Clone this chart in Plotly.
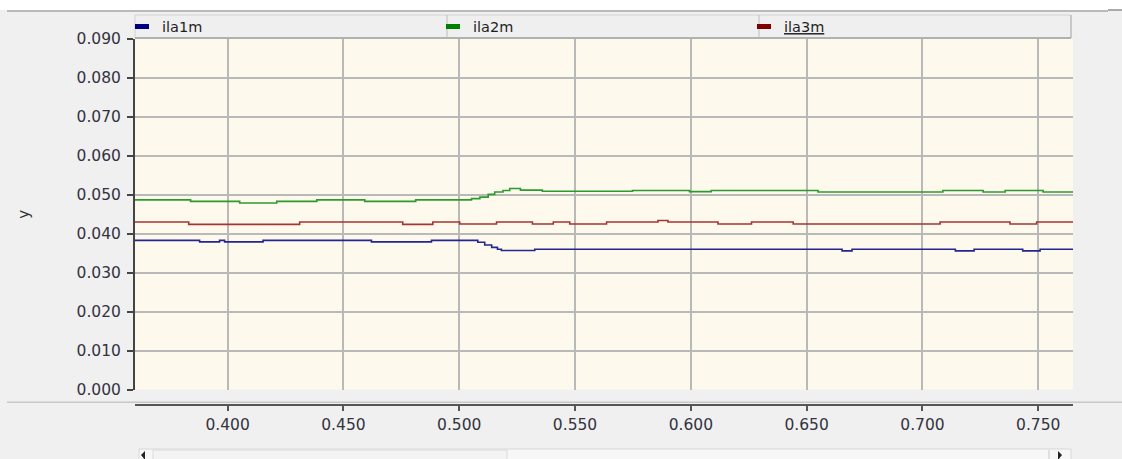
import plotly.graph_objects as go

# ---------------- data ----------------
ila1m_x = [0.3600, 0.3879, 0.3965, 0.3987, 0.4153, 0.4621, 0.4880, 0.5080, 0.5110, 0.5140,
           0.5165, 0.5182, 0.5326, 0.6653, 0.6696, 0.7142, 0.7223, 0.7433, 0.7508, 0.7650]
ila1m_y = [0.0383, 0.0379, 0.0383, 0.0379, 0.0383, 0.0379, 0.0383, 0.0378, 0.0371, 0.0365,
           0.0360, 0.0357, 0.0360, 0.0356, 0.0360, 0.0356, 0.0360, 0.0356, 0.0360, 0.0360]

ila2m_x = [0.3600, 0.3840, 0.4052, 0.4212, 0.4385, 0.4592, 0.4812, 0.5053, 0.5089, 0.5125,
           0.5153, 0.5189, 0.5218, 0.5264, 0.5359, 0.5748, 0.5994, 0.6088, 0.6549, 0.7088,
           0.7262, 0.7357, 0.7521, 0.7650]
ila2m_y = [0.0487, 0.0483, 0.0479, 0.0483, 0.0487, 0.0483, 0.0487, 0.0490, 0.0494, 0.0501,
           0.0507, 0.0511, 0.0516, 0.0512, 0.0509, 0.0511, 0.0508, 0.0511, 0.0507, 0.0511,
           0.0507, 0.0511, 0.0507, 0.0507]

ila3m_x = [0.3600, 0.3832, 0.4311, 0.4756, 0.4886, 0.5002, 0.5161, 0.5316, 0.5406, 0.5477,
           0.5636, 0.5858, 0.5901, 0.6117, 0.6262, 0.6442, 0.7076, 0.7378, 0.7493, 0.7650]
ila3m_y = [0.0430, 0.0424, 0.0430, 0.0424, 0.0430, 0.0425, 0.0430, 0.0425, 0.0430, 0.0425,
           0.0430, 0.0434, 0.0430, 0.0425, 0.0430, 0.0425, 0.0430, 0.0425, 0.0430, 0.0430]

series_names = ["ila1m", "ila2m", "<u>ila3m</u>"]
line_colors = ["#25258f", "#2c9a2c", "#a53535"]
legend_colors = ["#000080", "#008000", "#800000"]

x_ticks = [0.40, 0.45, 0.50, 0.55, 0.60, 0.65, 0.70, 0.75]
y_ticks = [0.000, 0.010, 0.020, 0.030, 0.040, 0.050, 0.060, 0.070, 0.080, 0.090]

# ---------------- geometry helpers (layout only) ----------------
W, H = 1122, 459
L, R, T, B = 135, 49, 39, 54
PW, PH = W - L - R, H - T - B


def px(xp):
    return (xp - L) / PW


def py(yp):
    return (H - B - yp) / PH


fig = go.Figure()

xs = [ila1m_x, ila2m_x, ila3m_x]
ys = [ila1m_y, ila2m_y, ila3m_y]
for i in range(3):
    fig.add_trace(go.Scatter(
        x=xs[i], y=ys[i], mode="lines", line=dict(color=line_colors[i], width=1.6, shape="hv"),
        showlegend=False, legendgroup=str(i), name=series_names[i]))
for i in range(3):
    fig.add_trace(go.Scatter(
        x=[None], y=[None], mode="markers", name=series_names[i], legendgroup=str(i),
        marker=dict(symbol="line-ew", size=10, color=legend_colors[i],
                    line=dict(color=legend_colors[i], width=5))))

shapes = []
# top white band and border line
shapes.append(dict(type="rect", xref="paper", yref="paper", x0=px(-5), x1=px(W + 5), y0=py(10), y1=py(-5),
                   fillcolor="white", line=dict(width=0), layer="below"))
shapes.append(dict(type="line", xref="paper", yref="paper", x0=px(7), x1=px(1108), y0=py(11), y1=py(11),
                   line=dict(color="#a8a8a8", width=1.5)))
shapes.append(dict(type="line", xref="paper", yref="paper", x0=px(1108), x1=px(W), y0=py(10), y1=py(10),
                   line=dict(color="#909090", width=1.5)))
# legend bar
shapes.append(dict(type="rect", xref="paper", yref="paper", x0=px(135), x1=px(1071), y0=py(38), y1=py(15),
                   fillcolor="#efefef", line=dict(color="#d2d2d2", width=1), layer="below"))
shapes.append(dict(type="line", xref="paper", yref="paper", x0=px(135), x1=px(1071), y0=py(38), y1=py(38),
                   line=dict(color="#a0a0a0", width=1.5)))
shapes.append(dict(type="line", xref="paper", yref="paper", x0=px(1071), x1=px(1071), y0=py(38), y1=py(15),
                   line=dict(color="#b0b0b0", width=1)))
for sx in (447, 759):
    shapes.append(dict(type="line", xref="paper", yref="paper", x0=px(sx), x1=px(sx), y0=py(38), y1=py(15),
                       line=dict(color="#bdbdbd", width=1)))
# horizontal separator above x axis
shapes.append(dict(type="line", xref="paper", yref="paper", x0=px(7), x1=px(W), y0=py(402.3), y1=py(402.3),
                   line=dict(color="#c8c8c8", width=1.5)))
# scrollbar
shapes.append(dict(type="rect", xref="paper", yref="paper", x0=px(139), x1=px(1071), y0=py(465), y1=py(449),
                   fillcolor="#f7f7f7", line=dict(color="#d8d8d8", width=1), layer="below"))
shapes.append(dict(type="rect", xref="paper", yref="paper", x0=px(153), x1=px(507), y0=py(465), y1=py(450),
                   fillcolor="#f3f3f3", line=dict(color="#dadada", width=1), layer="below"))
shapes.append(dict(type="path", xref="paper", yref="paper",
                   path=f"M {px(141)} {py(455)} L {px(145)} {py(451)} L {px(145)} {py(460)} Z",
                   fillcolor="#222", line=dict(width=0)))
shapes.append(dict(type="path", xref="paper", yref="paper",
                   path=f"M {px(1062)} {py(455)} L {px(1058)} {py(451)} L {px(1058)} {py(460)} Z",
                   fillcolor="#222", line=dict(width=0)))
shapes.append(dict(type="line", xref="paper", yref="paper", x0=px(1049), x1=px(1049), y0=py(460), y1=py(450),
                   line=dict(color="#c8c8c8", width=1)))

tick_font = dict(family="DejaVu Sans", size=15.5, color="#333340")

fig.update_layout(
    width=W, height=H,
    margin=dict(l=L, r=R, t=T, b=B, autoexpand=False),
    paper_bgcolor="#f0f0f0",
    plot_bgcolor="#fdf9ed",
    shapes=shapes,
    showlegend=True,
    legend=dict(orientation="h", x=px(122), xanchor="left", y=py(26.5), yanchor="middle",
                entrywidth=266, entrywidthmode="pixels", bgcolor="rgba(0,0,0,0)",
                font=dict(family="DejaVu Sans", size=14.5, color="#1e1e1e"),
                itemwidth=30, tracegroupgap=0),
    xaxis=dict(range=[0.36, 0.765], tickvals=x_ticks, ticktext=[f"{v:.3f}" for v in x_ticks],
               anchor="free", position=0, showgrid=True, gridcolor="#b9b9b9", gridwidth=1.5,
               showline=True, linecolor="#555", linewidth=2, ticks="outside", ticklen=5,
               tickcolor="#555", tickwidth=1.5, tickfont=tick_font, zeroline=False, fixedrange=True),
    yaxis=dict(range=[0, 0.09], tickvals=y_ticks, ticktext=[f"{v:.3f}" for v in y_ticks],
               domain=[py(389.5), 1], showgrid=True, gridcolor="#b9b9b9", gridwidth=1.5,
               showline=True, linecolor="#444", linewidth=2, ticks="outside", ticklen=6,
               tickcolor="#444", tickwidth=1.5, tickfont=tick_font, zeroline=False,
               ticklabelstandoff=3,
               title=dict(text="y", font=dict(family="DejaVu Sans", size=15, color="#333"), standoff=43),
               automargin=False, fixedrange=True),
)

fig.write_html("out.html", config={"displayModeBar": False},
               post_script="document.body.style.margin='0';document.body.style.overflow='hidden';")
